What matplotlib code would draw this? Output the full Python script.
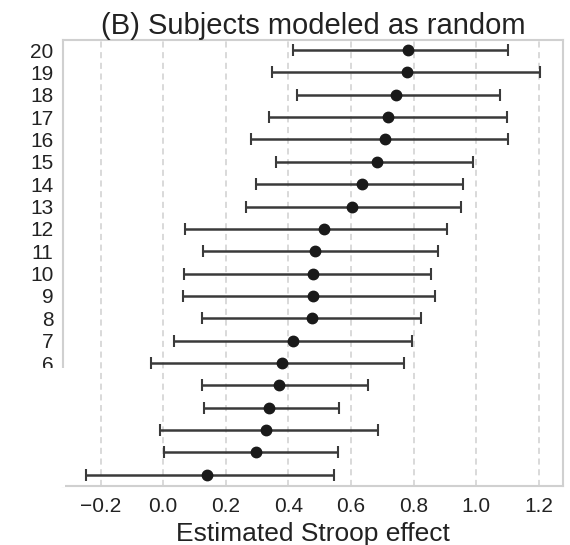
import matplotlib
matplotlib.use("Agg")
import matplotlib.pyplot as plt
from matplotlib.patches import Rectangle

plt.rcParams['font.family'] = ['Liberation Sans', 'DejaVu Sans']

subjects = list(range(1, 21))
estimates = [0.139, 0.296, 0.330, 0.339, 0.371, 0.381, 0.415, 0.476, 0.479, 0.479,
             0.485, 0.514, 0.604, 0.634, 0.684, 0.708, 0.717, 0.743, 0.778, 0.783]
lower = [-0.247, 0.003, -0.011, 0.131, 0.125, -0.040, 0.035, 0.125, 0.064, 0.067,
         0.128, 0.069, 0.266, 0.298, 0.360, 0.279, 0.339, 0.426, 0.346, 0.415]
upper = [0.545, 0.557, 0.687, 0.562, 0.655, 0.769, 0.794, 0.823, 0.868, 0.855,
         0.879, 0.907, 0.951, 0.957, 0.990, 1.102, 1.099, 1.076, 1.203, 1.102]
xticks = [-0.2, 0.0, 0.2, 0.4, 0.6, 0.8, 1.0, 1.2]
xtick_labels = ['\u22120.2', '0.0', '0.2', '0.4', '0.6', '0.8', '1.0', '1.2']

fig = plt.figure(figsize=(5.7, 5.45), dpi=100)
ax = fig.add_axes([0.1105, 0.1083, 0.8772, 0.8183])

err_lo = [e - l for e, l in zip(estimates, lower)]
err_hi = [u - e for e, u in zip(estimates, upper)]
ax.errorbar(estimates, subjects, xerr=[err_lo, err_hi], fmt='o', color='#1a1a1a',
            ecolor='#3a3a3a', elinewidth=1.8, capsize=4, capthick=1.5,
            markersize=7.5, zorder=3)

for x in xticks:
    ax.axvline(x, color='#cfcfcf', linestyle=(0, (4, 3)), linewidth=1.1, zorder=1)

ax.set_xlim(-0.32, 1.277)
ax.set_ylim(0.5, 20.45)
ax.set_xticks(xticks)
ax.set_xticklabels(xtick_labels)
ax.set_yticks(subjects)
ax.set_yticklabels([str(s) for s in subjects])
ax.tick_params(axis='both', length=0, labelsize=15, labelcolor='#222222')
ax.tick_params(axis='y', pad=7)
ax.tick_params(axis='x', pad=8)
for sp in ax.spines.values():
    sp.set_color('#d0d0d0')
    sp.set_linewidth(1.5)

ax.set_xlabel('Estimated Stroop effect', fontsize=19, color='#222222', labelpad=4)
ax.set_title('(B) Subjects modeled as random', fontsize=21, color='#222222', pad=3)

# white mask over lower-left region as in the reference
fig.patches.append(Rectangle((0, 1 - 487 / 545), 64.5 / 570, (487 - 368) / 545,
                             transform=fig.transFigure, facecolor='white',
                             edgecolor='none', zorder=10))

fig.savefig('out.png', dpi=100)
